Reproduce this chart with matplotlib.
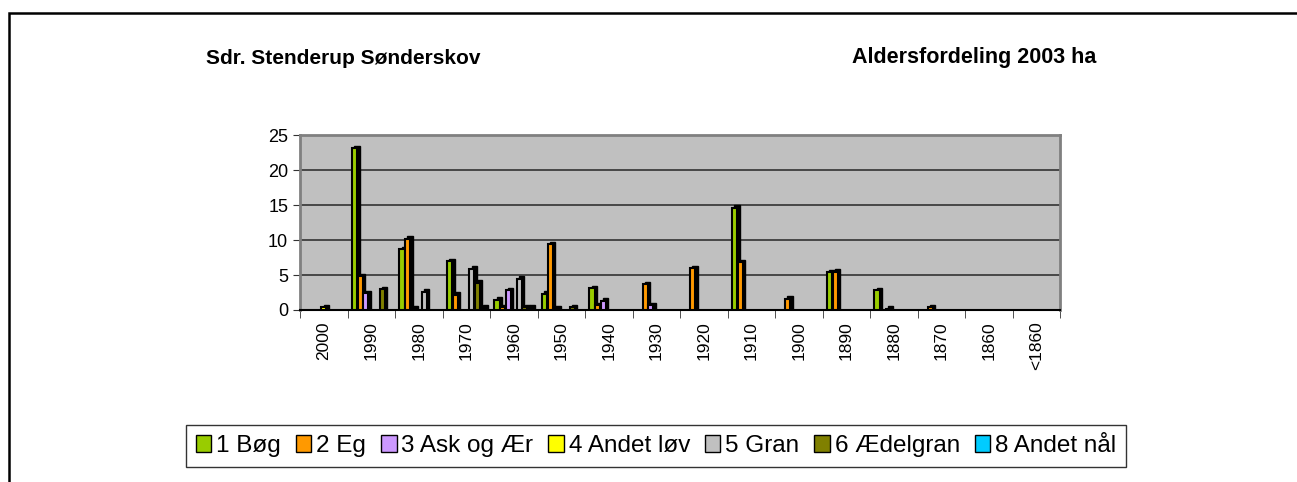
import numpy as np
import matplotlib.pyplot as plt
from matplotlib.patches import Rectangle

plt.rcParams['font.family'] = ['Liberation Sans', 'DejaVu Sans']

# aldersklasser (plantningsår)
categories = ["2000", "1990", "1980", "1970", "1960", "1950", "1940", "1930",
              "1920", "1910", "1900", "1890", "1880", "1870", "1860", "<1860"]

# areal i ha pr. træart
bog        = [0, 23.1, 8.7, 7.0, 1.5, 2.3, 3.1, 0, 0, 14.6, 0, 5.4, 2.8, 0, 0, 0]
eg         = [0, 4.8, 10.2, 2.2, 0.4, 9.4, 0.7, 3.7, 6.0, 6.8, 1.6, 5.5, 0, 0.4, 0, 0]
ask_aer    = [0, 2.4, 0.2, 0, 2.8, 0.2, 1.3, 0.7, 0, 0, 0, 0, 0.2, 0, 0, 0]
andet_lov  = [0.4, 0, 0, 0, 0, 0, 0, 0, 0, 0, 0, 0, 0, 0, 0, 0]
gran       = [0, 0, 2.6, 5.9, 4.5, 0, 0, 0, 0, 0, 0, 0, 0, 0, 0, 0]
aedelgran  = [0, 3.0, 0, 3.9, 0.4, 0.4, 0, 0, 0, 0, 0, 0, 0, 0, 0, 0]
andet_nal  = [0, 0, 0, 0.3, 0.3, 0, 0, 0, 0, 0, 0, 0, 0, 0, 0, 0]

series_names = ["1 Bøg", "2 Eg", "3 Ask og Ær", "4 Andet løv", "5 Gran",
                "6 Ædelgran", "8 Andet nål"]
series = [bog, eg, ask_aer, andet_lov, gran, aedelgran, andet_nal]
colors = ["#99CC00", "#FF9900", "#CC99FF", "#FFFF00", "#C0C0C0", "#808000", "#00CCFF"]

fig = plt.figure(figsize=(12.97, 4.82), dpi=100)
ax = fig.add_axes([300 / 1297, 1 - 310 / 482, 760 / 1297, 175 / 482])
ax.set_facecolor("#C0C0C0")

x = np.arange(len(categories))
w = 0.11
dx, dy = 0.05, 0.35   # 3D-skygge (ca. 2-3 px)
handles = []
for i, (vals, col, name) in enumerate(zip(series, colors, series_names)):
    v = np.array(vals, dtype=float)
    m = v > 0
    pos = x[m] + (i - 3) * 0.117
    ax.bar(pos + dx, v[m] + dy, width=w, color="black", edgecolor="black",
           linewidth=1, zorder=3)
    ax.bar(pos, v[m], width=w, color=col, edgecolor="black",
           linewidth=1.5, zorder=4)
    handles.append(Rectangle((0, 0), 1, 1, facecolor=col, edgecolor="black", linewidth=1))

ax.set_ylim(0, 25)
ax.set_xlim(-0.5, len(categories) - 0.5)
ax.set_yticks(range(0, 26, 5))
ax.yaxis.grid(True, color="#333333", linewidth=1.2, zorder=1)
ax.set_axisbelow(True)

ax.set_xticks(x)
ax.set_xticklabels(categories, rotation=90, fontsize=12.5)
ax.set_xticks(np.arange(-0.5, len(categories)), minor=True)
ax.tick_params(axis="x", which="major", length=0, pad=8)
ax.tick_params(axis="x", which="minor", length=6, direction="out", color="#333333")
ax.tick_params(axis="y", labelsize=13, length=5, direction="out", color="#333333")

for s in ["left", "top", "right"]:
    ax.spines[s].set_color("#808080")
    ax.spines[s].set_linewidth(2)
ax.spines["bottom"].set_color("black")
ax.spines["bottom"].set_linewidth(1.5)

fig.text(343 / 1297, 1 - 58 / 482, "Sdr. Stenderup Sønderskov", fontsize=15,
         fontweight="bold", ha="center", va="center")
fig.text(974 / 1297, 1 - 58 / 482, "Aldersfordeling 2003 ha", fontsize=15.5,
         fontweight="bold", ha="center", va="center")

leg = fig.legend(handles, series_names, loc="center", ncol=7,
                 bbox_to_anchor=(656 / 1297, 1 - 446 / 482), fontsize=17.5,
                 frameon=True, fancybox=False, edgecolor="black",
                 handlelength=0.65, handleheight=0.65, handletextpad=0.2,
                 columnspacing=0.6, borderpad=0.4, borderaxespad=0)
leg.get_frame().set_linewidth(1)

# ramme om hele diagrammet
fig.patches.append(Rectangle((8.5 / 1297, -0.1), 2, 1 - 13 / 482 + 0.1,
                             transform=fig.transFigure, fill=False,
                             edgecolor="black", linewidth=1.8))

fig.savefig("out.png", dpi=100)
